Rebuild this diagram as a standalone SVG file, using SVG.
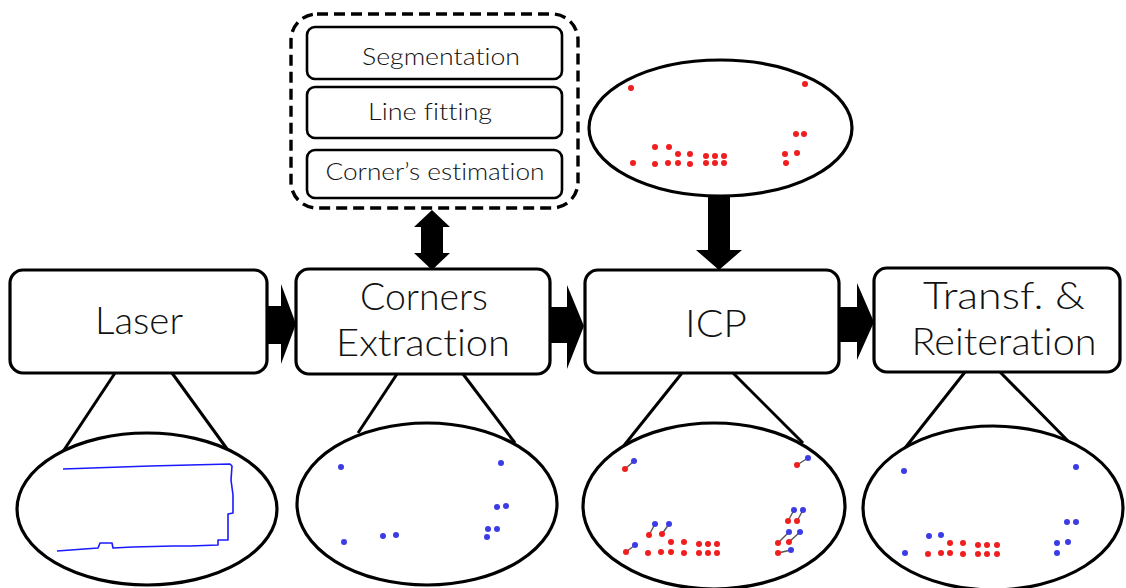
<svg xmlns="http://www.w3.org/2000/svg" width="1126" height="588" viewBox="0 0 1126 588">
  <style>
    .box { fill: #fff; stroke: #000; stroke-width: 3.2; }
    .sub { fill: #fff; stroke: #000; stroke-width: 2.6; }
    .dash { fill: #fff; stroke: #000; stroke-width: 3.4; stroke-dasharray: 11 6; }
    .ell { fill: #fff; stroke: #000; stroke-width: 3.2; }
    .zoomline { stroke: #000; stroke-width: 3; fill: none; }
    text { font-variant-ligatures: none; font-feature-settings: "liga" 0, "dlig" 0; }
    .big { font-family: Lato, "Liberation Sans", Arial, sans-serif; font-weight: 300; font-size: 37px; fill: #111; text-anchor: middle; }
    .small { font-family: Lato, "Liberation Sans", Arial, sans-serif; font-weight: 300; font-size: 23px; fill: #111; text-anchor: middle; }
    .r { fill: #f01e1e; }
    .b { fill: #3c3ce6; }
    .pair { stroke: #555; stroke-width: 1.4; }
    .scan { fill: none; stroke: #1a1aff; stroke-width: 1.6; stroke-linejoin: round; }
    .arrow { fill: #000; }
  </style>

  <!-- block arrows between the main stages -->
  <g id="connectors">
    <polygon class="arrow" points="266,306 281,306 281,284 296,324 281,364 281,344 266,344"/>
    <polygon class="arrow" points="549,307 567,307 567,285 584,326 567,369 567,343 549,343"/>
    <polygon class="arrow" points="838,307 857,307 857,283 874,322 857,360 857,342 838,342"/>
    <!-- two-way arrow to the sub-steps -->
    <polygon class="arrow" points="432,210 450,227 443,227 443,253 450,253 432,270 414,253 421,253 421,227 414,227"/>
    <!-- model points down into ICP -->
    <polygon class="arrow" points="708,196 730,196 730,250 742,250 719,270 696,250 708,250"/>
    <!-- zoom lines from boxes to views -->
    <line class="zoomline" x1="115" y1="373" x2="62" y2="453"/>
    <line class="zoomline" x1="172" y1="373" x2="230" y2="453"/>
    <line class="zoomline" x1="397" y1="374" x2="358" y2="433"/>
    <line class="zoomline" x1="463" y1="374" x2="515" y2="443"/>
    <line class="zoomline" x1="682" y1="373" x2="622" y2="448"/>
    <line class="zoomline" x1="733" y1="373" x2="803" y2="443"/>
    <line class="zoomline" x1="965" y1="372" x2="905" y2="448"/>
    <line class="zoomline" x1="1000" y1="372" x2="1070" y2="443"/>
  </g>

  <!-- sub-steps of corner extraction -->
  <g id="substeps">
    <rect class="dash" x="291" y="14" width="287" height="194" rx="26"/>
    <g id="segmentation">
      <rect class="sub" x="307" y="27" width="255" height="52" rx="8"/>
      <text class="small" x="441" y="65" textLength="158" lengthAdjust="spacingAndGlyphs">Segmentation</text>
    </g>
    <g id="line-fitting">
      <rect class="sub" x="307" y="87" width="255" height="51" rx="8"/>
      <text class="small" x="430" y="120" textLength="124" lengthAdjust="spacingAndGlyphs">Line fitting</text>
    </g>
    <g id="corner-estimation">
      <rect class="sub" x="307" y="150" width="255" height="48" rx="8"/>
      <text class="small" x="435" y="180" textLength="219" lengthAdjust="spacingAndGlyphs">Corner’s estimation</text>
    </g>
  </g>

  <!-- main stages -->
  <g id="laser">
    <rect class="box" x="10" y="270" width="257" height="103" rx="13"/>
    <text class="big" x="139" y="334" textLength="88" lengthAdjust="spacingAndGlyphs">Laser</text>
  </g>
  <g id="corners-extraction">
    <rect class="box" x="296" y="269" width="254" height="105" rx="13"/>
    <text class="big" x="424" y="310" textLength="128" lengthAdjust="spacingAndGlyphs">Corners</text>
    <text class="big" x="423" y="356" textLength="174" lengthAdjust="spacingAndGlyphs">Extraction</text>
  </g>
  <g id="icp">
    <rect class="box" x="585" y="270" width="254" height="103" rx="13"/>
    <text class="big" x="716" y="337" textLength="62" lengthAdjust="spacingAndGlyphs">ICP</text>
  </g>
  <g id="transf-reiteration">
    <rect class="box" x="874" y="268" width="246" height="104" rx="13"/>
    <text class="big" x="1004" y="309" textLength="162" lengthAdjust="spacingAndGlyphs">Transf. &amp;</text>
    <text class="big" x="1004" y="355" textLength="185" lengthAdjust="spacingAndGlyphs">Reiteration</text>
  </g>

  <!-- reference model corners -->
  <g id="model-view">
    <ellipse class="ell" cx="720.5" cy="128" rx="131.5" ry="68"/>
    <g class="r">
      <circle cx="631" cy="88" r="3"/><circle cx="805" cy="84" r="3"/>
      <circle cx="796" cy="134" r="3"/><circle cx="804" cy="134" r="3"/>
      <circle cx="785" cy="154" r="3"/><circle cx="797" cy="153" r="3"/><circle cx="786" cy="163" r="3"/>
      <circle cx="633" cy="163" r="3"/>
      <circle cx="655" cy="147" r="3"/><circle cx="669" cy="147" r="3"/>
      <circle cx="678" cy="154" r="3"/><circle cx="690" cy="154" r="3"/>
      <circle cx="706" cy="156" r="3"/><circle cx="715" cy="156" r="3"/><circle cx="724" cy="156" r="3"/>
      <circle cx="655" cy="164" r="3"/><circle cx="668" cy="163" r="3"/><circle cx="678" cy="163" r="3"/><circle cx="690" cy="164" r="3"/>
      <circle cx="706" cy="163" r="3"/><circle cx="715" cy="163" r="3"/><circle cx="724" cy="163" r="3"/>
    </g>
  </g>

  <!-- raw laser scan -->
  <g id="laser-view">
    <ellipse class="ell" cx="147" cy="509" rx="130" ry="76"/>
    <polyline class="scan" points="63,469 150,466 230,464 232,466 231,480 233,495 233,513 228,514 228,540 218,540 218,545 190,546 173,546 133,547 113,548 112,543 100,543 98,548 57,551"/>
  </g>

  <!-- extracted corners -->
  <g id="corners-view">
    <ellipse class="ell" cx="427" cy="504" rx="130" ry="81"/>
    <g class="b">
      <circle cx="341" cy="467" r="3"/><circle cx="501" cy="463" r="3"/>
      <circle cx="497" cy="507" r="3"/><circle cx="506" cy="506" r="3"/>
      <circle cx="488" cy="529" r="3"/><circle cx="497" cy="529" r="3"/><circle cx="487" cy="537" r="3"/>
      <circle cx="344" cy="542" r="3"/><circle cx="383" cy="536" r="3"/><circle cx="396" cy="535" r="3"/>
    </g>
  </g>

  <!-- ICP correspondences -->
  <g id="icp-view">
    <ellipse class="ell" cx="714" cy="506" rx="131" ry="83"/>
    <g class="pair">
      <line x1="625" y1="469" x2="634" y2="461"/>
      <line x1="797" y1="465" x2="808" y2="458"/>
      <line x1="788" y1="521" x2="794" y2="510"/>
      <line x1="797" y1="521" x2="803" y2="510"/>
      <line x1="778" y1="543" x2="789" y2="532"/>
      <line x1="789" y1="542" x2="800" y2="532"/>
      <line x1="778" y1="553" x2="791" y2="550"/>
      <line x1="649" y1="535" x2="655" y2="524"/>
      <line x1="662" y1="534" x2="669" y2="524"/>
      <line x1="626" y1="552" x2="635" y2="545"/>
    </g>
    <g class="b">
      <circle cx="634" cy="461" r="3"/><circle cx="808" cy="458" r="3"/>
      <circle cx="794" cy="510" r="3"/><circle cx="803" cy="510" r="3"/>
      <circle cx="789" cy="532" r="3"/><circle cx="800" cy="532" r="3"/><circle cx="791" cy="550" r="3"/>
      <circle cx="655" cy="524" r="3"/><circle cx="669" cy="524" r="3"/><circle cx="635" cy="545" r="3"/>
    </g>
    <g class="r">
      <circle cx="625" cy="469" r="3"/><circle cx="797" cy="465" r="3"/>
      <circle cx="788" cy="521" r="3"/><circle cx="797" cy="521" r="3"/>
      <circle cx="778" cy="543" r="3"/><circle cx="789" cy="542" r="3"/><circle cx="778" cy="553" r="3"/>
      <circle cx="649" cy="535" r="3"/><circle cx="662" cy="534" r="3"/><circle cx="626" cy="552" r="3"/>
      <circle cx="671" cy="542" r="3"/><circle cx="684" cy="542" r="3"/>
      <circle cx="699" cy="544" r="3"/><circle cx="708" cy="544" r="3"/><circle cx="717" cy="544" r="3"/>
      <circle cx="648" cy="553" r="3"/><circle cx="661" cy="552" r="3"/><circle cx="671" cy="552" r="3"/><circle cx="684" cy="553" r="3"/>
      <circle cx="699" cy="553" r="3"/><circle cx="708" cy="553" r="3"/><circle cx="717" cy="553" r="3"/>
    </g>
  </g>

  <!-- scan transformed onto the model -->
  <g id="transf-view">
    <ellipse class="ell" cx="993" cy="508" rx="130" ry="82"/>
    <g class="b">
      <circle cx="904" cy="471" r="3"/><circle cx="1076" cy="467" r="3"/>
      <circle cx="1067" cy="522" r="3"/><circle cx="1076" cy="522" r="3"/>
      <circle cx="1057" cy="543" r="3"/><circle cx="1068" cy="542" r="3"/><circle cx="1057" cy="553" r="3"/>
      <circle cx="905" cy="553" r="3"/><circle cx="929" cy="536" r="3"/><circle cx="941" cy="535" r="3"/>
    </g>
    <g class="r">
      <circle cx="950" cy="543" r="3"/><circle cx="963" cy="543" r="3"/>
      <circle cx="978" cy="545" r="3"/><circle cx="987" cy="545" r="3"/><circle cx="997" cy="545" r="3"/>
      <circle cx="928" cy="554" r="3"/><circle cx="941" cy="553" r="3"/><circle cx="950" cy="553" r="3"/><circle cx="963" cy="554" r="3"/>
      <circle cx="978" cy="554" r="3"/><circle cx="987" cy="554" r="3"/><circle cx="997" cy="554" r="3"/>
    </g>
  </g>
</svg>
